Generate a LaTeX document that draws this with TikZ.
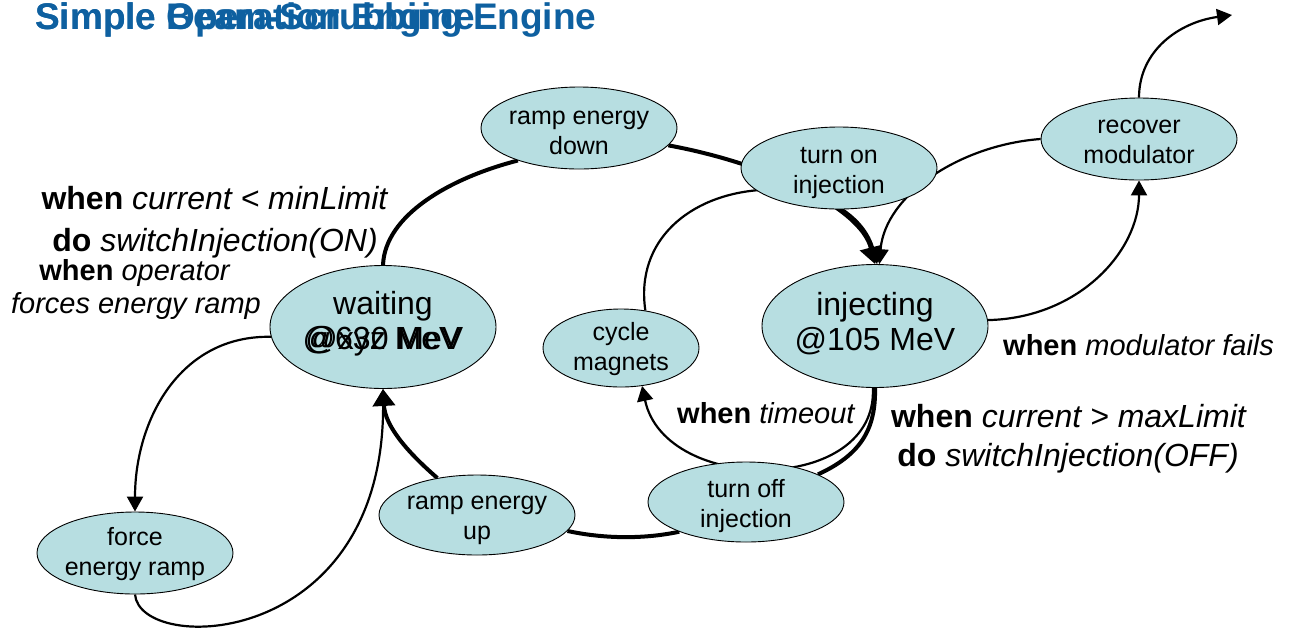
\documentclass[tikz,border=0pt]{standalone}
\usepackage{fontspec}
\setmainfont{Liberation Sans}
\usetikzlibrary{shapes.geometric,arrows.meta}
\definecolor{statefill}{RGB}{183,222,225}
\definecolor{titleblue}{RGB}{14,96,160}
\pgfdeclarelayer{bg}
\pgfsetlayers{bg,main}
\tikzset{
  statebox/.style={ellipse, draw=black, line width=0.9pt, fill=statefill, inner sep=0pt},
  smallstate/.style={statebox, minimum width=196pt, minimum height=82pt},
  bigstate/.style={statebox, minimum width=226pt, minimum height=123pt},
  stxt/.style={font=\fontsize{25}{30}\selectfont, align=center, inner sep=0pt},
  btxt/.style={font=\fontsize{32}{35}\selectfont, align=center, inner sep=0pt},
  biglbl/.style={font=\fontsize{32}{36}\selectfont, inner sep=0pt, anchor=base},
  smalllbl/.style={font=\fontsize{29}{32}\selectfont, inner sep=0pt, anchor=base},
  thinline/.style={line width=2.2pt},
  thinarrow/.style={line width=2.2pt, -{Triangle[length=15pt,width=16pt]}},
  thickline/.style={line width=4pt},
  thickarrow/.style={line width=4pt, -{Triangle[length=17pt,width=22pt]}},
}
\begin{document}
\begin{tikzpicture}[x=1pt,y=-1pt]
\useasboundingbox (0,0) rectangle (1289,630);

% title
\node[font=\fontsize{37}{40}\selectfont\bfseries, text=titleblue, anchor=base west, inner sep=0pt] (title) at (35,29)
  {\rlap{Simple Operation Engine}Simple Beam-Scrubbing Engine};

% states
\node[bigstate] (w) at (383,327) {};
\node[btxt] (wt) at (383,324) {waiting\\\ooalign{\hfil @630 MeV\hfil\cr\hfil @xyz MeV\hfil\cr}};
\node[bigstate] (inj) at (875,326) {};
\node[btxt] (injt) at (875,324) {injecting\\@105 MeV};
\node[smallstate] (rd) at (579,128) {};
\node[stxt] (rdt) at (579,133) {ramp energy\\down};
\node[smallstate] (ton) at (839,168) {};
\node[stxt] (tont) at (839,173) {turn on\\injection};
\node[smallstate] (rm) at (1139,139) {};
\node[stxt] (rmt) at (1139,142) {recover\\modulator};
\node[statebox, minimum width=156pt, minimum height=78pt] (cm) at (621,348) {};
\node[stxt] (cmt) at (621,349) {cycle\\magnets};
\node[smallstate, minimum height=80pt] (ru) at (477,515) {};
\node[stxt] (rut) at (477,520) {ramp energy\\up};
\node[smallstate, minimum height=80pt] (tof) at (746,502) {};
\node[stxt] (toft) at (746,506) {turn off\\injection};
\node[smallstate] (f) at (135,553) {};
\node[stxt] (ft) at (135,554) {force\\energy ramp};
\coordinate (exitpt) at (1232,15);

% labels
\node[biglbl] (l1) at (215,209) {\textbf{when} \textit{current < minLimit}};
\node[biglbl] (l2) at (215,251) {\textbf{do} \textit{switchInjection(ON)}};
\node[smalllbl] (l3) at (135,280) {\textbf{when} \textit{operator}};
\node[smalllbl] (l4) at (136,313) {\textit{forces energy ramp}};
\node[smalllbl, anchor=base west] (l5) at (1003,355) {\textbf{when} \textit{modulator fails}};
\node[biglbl] (l6) at (1069,427) {\textbf{when} \textit{current > maxLimit}};
\node[biglbl] (l7) at (1068,466) {\textbf{do} \textit{switchInjection(OFF)}};
\node[smalllbl, anchor=base west] (l8) at (677,423) {\textbf{when} \textit{timeout}};

\begin{pgfonlayer}{bg}
% thick main cycle
\draw[thickline] (w.north) .. controls (385,215) and (450,178) .. (rd.208);
\draw[thickarrow] (rd.-11) .. controls (760,162) and (860,205) .. (inj.north);
\draw[thickline] (inj.south) .. controls (876,430) and (860,455) .. (tof.21);
\draw[thickline] (tof.204) .. controls (640,540) and (600,538) .. (ru.-10);
\draw[thickarrow] (ru.137) .. controls (405,450) and (385,425) .. (w.south);
% thin transitions
\draw[thinarrow] (cm.57) .. controls (635,240) and (690,195) .. (760,190) .. controls (820,186) and (865,215) .. (inj.88);
\draw[thinarrow] (rm.west) .. controls (960,145) and (885,195) .. (inj.86);
\draw[thinarrow] (inj.3) .. controls (1080,318) and (1139,250) .. (rm.south);
\draw[thinarrow] (rm.north) .. controls (1139,50) and (1180,22) .. (exitpt);
\draw[thinarrow] (w.185) .. controls (180,335) and (135,420) .. (f.north);
\draw[thinarrow] (f.south) .. controls (140,655) and (385,650) .. (w.south);
\draw[thinarrow] (inj.-92) .. controls (878,495) and (665,495) .. (cm.-61);
\end{pgfonlayer}
\end{tikzpicture}
\end{document}
